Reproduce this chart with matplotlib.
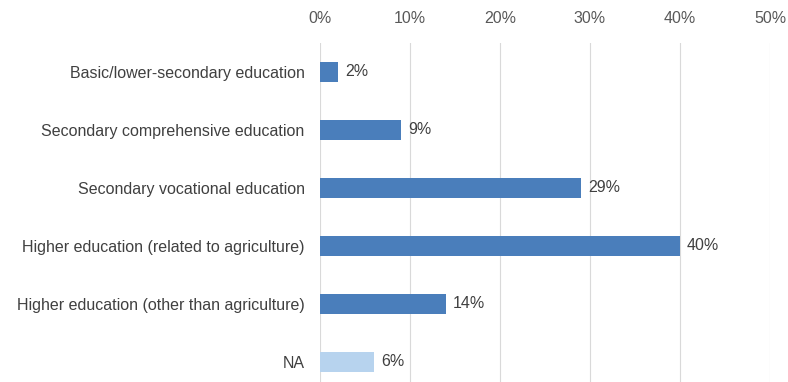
import matplotlib
matplotlib.use("Agg")
import matplotlib.pyplot as plt

categories = [
    "Basic/lower-secondary education",
    "Secondary comprehensive education",
    "Secondary vocational education",
    "Higher education (related to agriculture)",
    "Higher education (other than agriculture)",
    "NA",
]
values = [2, 9, 29, 40, 14, 6]
bar_colors = ["#4a7ebb", "#4a7ebb", "#4a7ebb", "#4a7ebb", "#4a7ebb", "#b7d3ee"]
x_ticks = [0, 10, 20, 30, 40, 50]
x_tick_labels = ["0%", "10%", "20%", "30%", "40%", "50%"]

plt.rcParams["font.family"] = ["Liberation Sans", "DejaVu Sans"]

W, H = 788, 382
fig = plt.figure(figsize=(W / 100, H / 100), dpi=100)
ax_left, ax_right, ax_top, ax_bottom = 320, 770, 43, 382
ax = fig.add_axes([ax_left / W, 1 - ax_bottom / H,
                   (ax_right - ax_left) / W, (ax_bottom - ax_top) / H])

ypos = list(range(len(categories)))
ax.barh(ypos, values, height=0.35, color=bar_colors, zorder=3)

for y, v in zip(ypos, values):
    ax.annotate(f"{v}%", (v, y), xytext=(5, 0), textcoords="offset points",
                va="center", ha="left", fontsize=11.5, color="#404040")

ax.set_xlim(0, 50)
units = (ax_bottom - ax_top) / 58.0
ax.set_ylim(-0.5 + units, -0.5)

ax.xaxis.tick_top()
ax.set_xticks(x_ticks)
ax.set_xticklabels(x_tick_labels, fontsize=11.5, color="#595959")
ax.tick_params(axis="x", length=0, pad=12)
ax.set_yticks(ypos)
ax.set_yticklabels(categories, fontsize=11.5, color="#404040")
ax.tick_params(axis="y", length=0, pad=11)

ax.grid(axis="x", color="#d9d9d9", linewidth=0.8, zorder=0)
for s in ax.spines.values():
    s.set_visible(False)

fig.savefig("out.png", dpi=100, facecolor="white")
